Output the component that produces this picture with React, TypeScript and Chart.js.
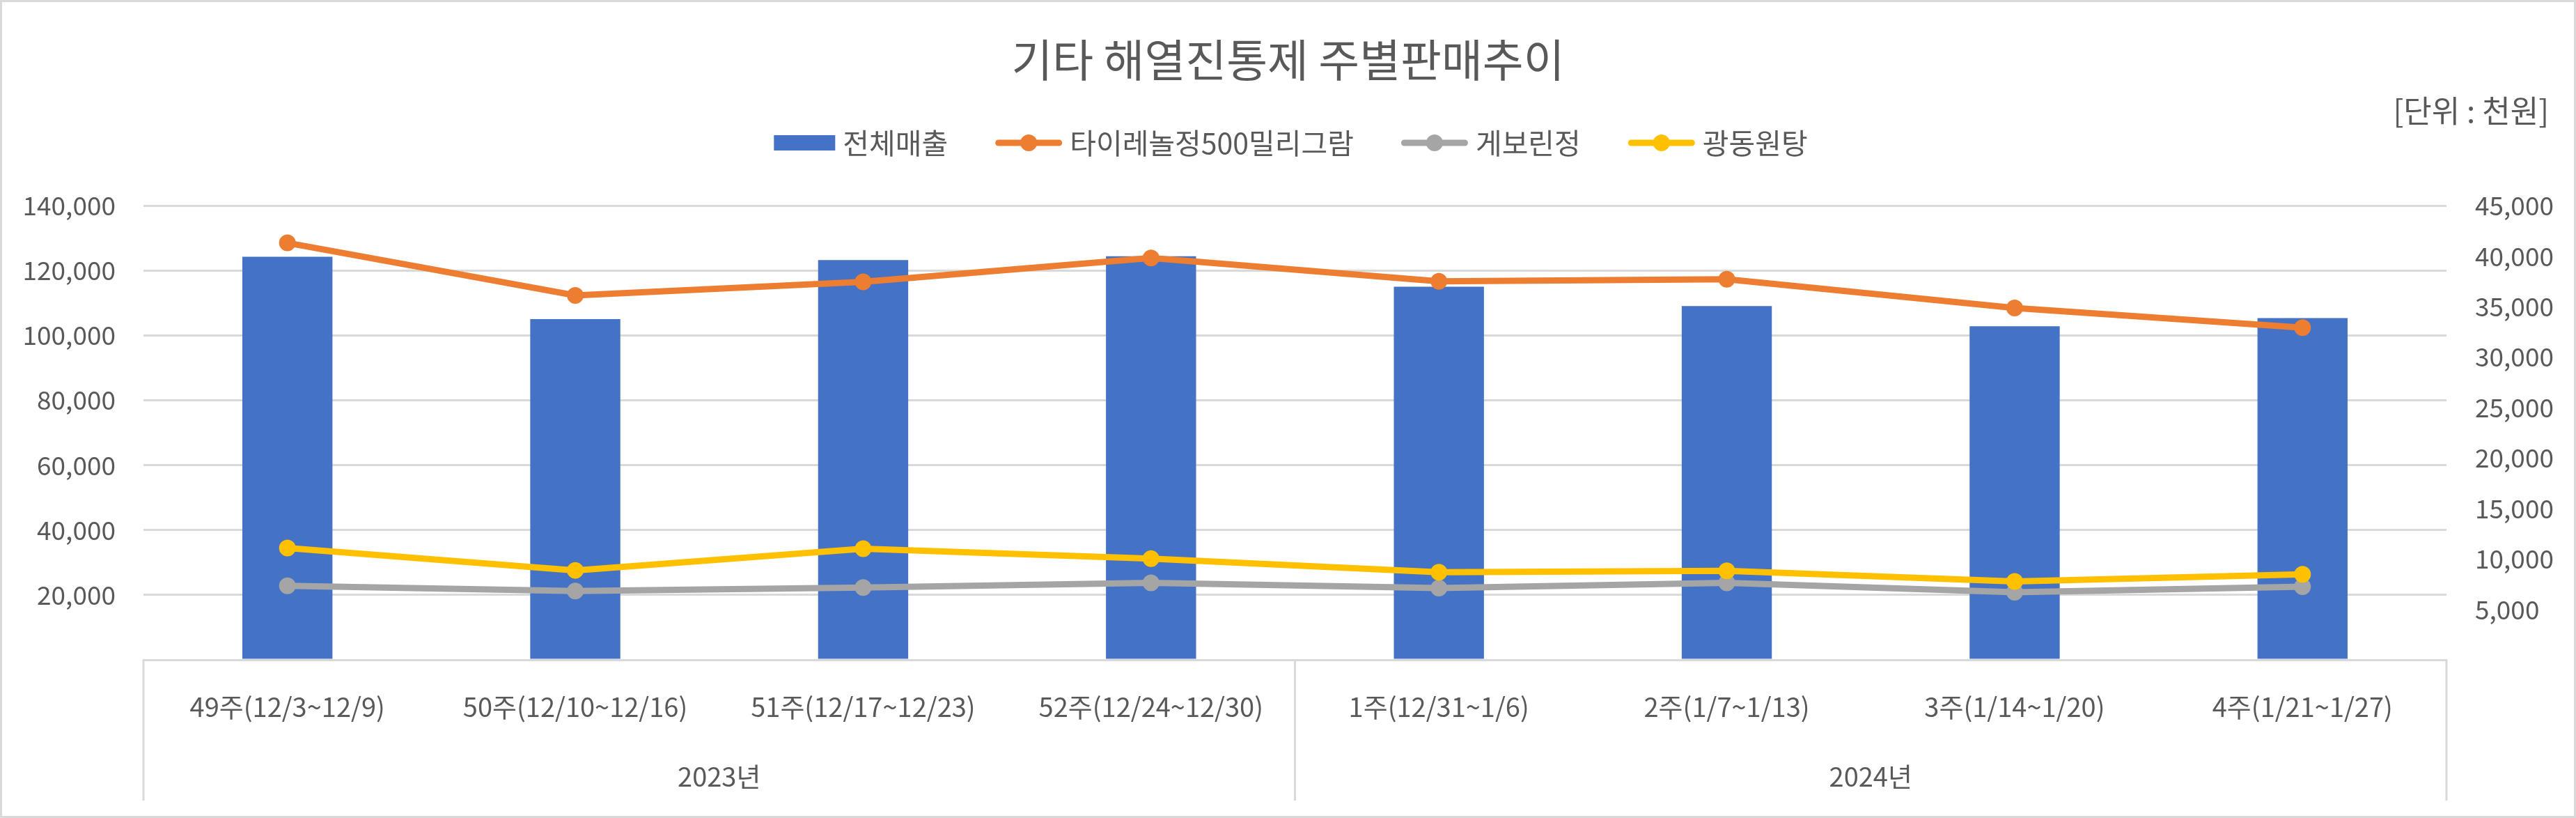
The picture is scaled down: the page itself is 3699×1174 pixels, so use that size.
import React, { useEffect, useRef } from "react";
import { Chart, registerables } from "chart.js";

Chart.register(...registerables);

// ---------- data ----------
const titleText = "기타 해열진통제 주별판매추이";
const unitText = "[단위 : 천원]";
const categories = [
  "49주(12/3~12/9)",
  "50주(12/10~12/16)",
  "51주(12/17~12/23)",
  "52주(12/24~12/30)",
  "1주(12/31~1/6)",
  "2주(1/7~1/13)",
  "3주(1/14~1/20)",
  "4주(1/21~1/27)",
];
const yearGroups = ["2023년", "2024년"];
const yearGroupSizes = [4, 4];
const seriesNames = ["전체매출", "타이레놀정500밀리그람", "게보린정", "광동원탕"];
const totalSales = [124200, 105000, 123200, 124400, 115000, 109000, 102800, 105300];
const tylenol = [41300, 36100, 37450, 39800, 37500, 37700, 34850, 32900];
const geborin = [7340, 6820, 7160, 7630, 7110, 7630, 6690, 7240];
const gwangdong = [11080, 8860, 11000, 10030, 8680, 8810, 7760, 8470];
const leftMax = 140000;
const leftStep = 20000;
const rightMax = 45000;
const rightStep = 5000;

// ---------- styles ----------
const W = 3699;
const H = 1174;
const FONT = '"Noto Sans CJK KR", "Noto Sans", sans-serif';
const TEXT = "#595959";
const GRID = "#d9d9d9";
const BLUE = "#4472C4";
const ORANGE = "#ED7D31";
const GRAY = "#A5A5A5";
const YELLOW = "#FFC000";

const decorPlugin = {
  id: "decor",
  beforeDraw(chart: any) {
    const { ctx } = chart;
    ctx.save();
    ctx.fillStyle = "#ffffff";
    ctx.fillRect(0, 0, chart.width, chart.height);
    ctx.restore();
  },
  afterDraw(chart: any) {
    const { ctx, chartArea } = chart;
    const w = chart.width;
    const h = chart.height;
    const xs = chart.scales.x;
    ctx.save();

    // outer border
    ctx.strokeStyle = GRID;
    ctx.lineWidth = 3;
    ctx.strokeRect(1.5, 1.5, w - 3, h - 3);

    // title
    ctx.fillStyle = TEXT;
    ctx.textBaseline = "middle";
    ctx.textAlign = "center";
    ctx.font = `64px ${FONT}`;
    ctx.fillText(titleText, w / 2, 86);

    // unit
    ctx.textAlign = "right";
    ctx.font = `44px ${FONT}`;
    ctx.fillText(unitText, 3660, 159);

    // legend
    ctx.font = `41px ${FONT}`;
    const ds = chart.data.datasets;
    const symW = (d: any) => (d.type === "bar" ? 88 : 96);
    const gapSym = 11;
    const gapItem = 68;
    let total = 0;
    ds.forEach((d: any, i: number) => {
      total += symW(d) + gapSym + ctx.measureText(d.label).width;
      if (i < ds.length - 1) total += gapItem;
    });
    let lx = w / 2 - total / 2 + 4;
    const ly = 205;
    ds.forEach((d: any) => {
      const sw = symW(d);
      if (d.type === "bar") {
        ctx.fillStyle = d.backgroundColor;
        ctx.fillRect(lx, ly - 11, sw, 22);
      } else {
        ctx.strokeStyle = d.borderColor;
        ctx.lineWidth = 9;
        ctx.lineCap = "round";
        ctx.beginPath();
        ctx.moveTo(lx + 4.5, ly);
        ctx.lineTo(lx + sw - 4.5, ly);
        ctx.stroke();
        ctx.fillStyle = d.borderColor;
        ctx.beginPath();
        ctx.arc(lx + sw / 2, ly, 12, 0, Math.PI * 2);
        ctx.fill();
      }
      lx += sw + gapSym;
      ctx.fillStyle = TEXT;
      ctx.textAlign = "left";
      ctx.fillText(d.label, lx, ly);
      lx += ctx.measureText(d.label).width + gapItem;
    });

    // group separators and labels
    const bounds: number[] = [chartArea.left];
    let idx = 0;
    yearGroupSizes.forEach((n) => {
      idx += n;
      if (idx < categories.length) {
        bounds.push((xs.getPixelForValue(idx - 1) + xs.getPixelForValue(idx)) / 2);
      } else {
        bounds.push(chartArea.right);
      }
    });
    ctx.strokeStyle = GRID;
    ctx.lineWidth = 3;
    ctx.lineCap = "butt";
    bounds.forEach((bx) => {
      ctx.beginPath();
      ctx.moveTo(bx, chartArea.bottom);
      ctx.lineTo(bx, 1149);
      ctx.stroke();
    });
    ctx.fillStyle = TEXT;
    ctx.textAlign = "center";
    ctx.font = `38px ${FONT}`;
    yearGroups.forEach((g, i) => {
      ctx.fillText(g, (bounds[i] + bounds[i + 1]) / 2, 1115);
    });

    ctx.restore();
  },
};

const fmt = (v: number) => (v === 0 ? "" : v.toLocaleString("en-US"));

export default function App() {
  const ref = useRef<HTMLCanvasElement | null>(null);

  useEffect(() => {
    document.body.style.margin = "0";
    if (!ref.current) return;
    const lineDs = (label: string, data: number[], color: string, order: number) => ({
      type: "line" as const,
      label,
      data,
      borderColor: color,
      backgroundColor: color,
      borderWidth: 9,
      pointRadius: 11,
      pointBorderWidth: 2,
      pointBackgroundColor: color,
      pointBorderColor: color,
      pointHoverRadius: 11,
      tension: 0,
      yAxisID: "y1",
      order,
    });
    const chart = new Chart(ref.current, {
      type: "bar",
      data: {
        labels: categories,
        datasets: [
          {
            type: "bar",
            label: seriesNames[0],
            data: totalSales,
            backgroundColor: BLUE,
            yAxisID: "y",
            order: 4,
            categoryPercentage: 1,
            barPercentage: 0.313,
          },
          lineDs(seriesNames[1], tylenol, ORANGE, 3),
          lineDs(seriesNames[2], geborin, GRAY, 2),
          lineDs(seriesNames[3], gwangdong, YELLOW, 1),
        ] as any,
      },
      options: {
        responsive: false,
        animation: false,
        devicePixelRatio: 1,
        layout: { padding: { top: 295, bottom: 0, left: 0, right: 0 } },
        plugins: {
          legend: { display: false },
          title: { display: false },
          tooltip: { enabled: false },
        },
        scales: {
          x: {
            grid: { display: false, drawTicks: false },
            border: { display: true, color: GRID, width: 3 },
            ticks: {
              color: TEXT,
              font: { family: FONT, size: 38 },
              padding: 45,
              maxRotation: 0,
              autoSkip: false,
            },
            afterFit: (s: any) => {
              s.height = 227;
            },
          },
          y: {
            position: "left",
            min: 0,
            max: leftMax,
            grid: { color: GRID, lineWidth: 3, drawTicks: false },
            border: { display: false },
            ticks: {
              stepSize: leftStep,
              color: TEXT,
              font: { family: FONT, size: 37 },
              padding: 40,
              callback: (v: any) => fmt(Number(v)),
            },
            afterFit: (s: any) => {
              s.width = 206;
            },
          },
          y1: {
            position: "right",
            min: 0,
            max: rightMax,
            grid: { display: false, drawTicks: false },
            border: { display: false },
            ticks: {
              stepSize: rightStep,
              color: TEXT,
              font: { family: FONT, size: 37 },
              padding: 41,
              callback: (v: any) => fmt(Number(v)),
            },
            afterFit: (s: any) => {
              s.width = W - 3513;
            },
          },
        },
      } as any,
      plugins: [decorPlugin],
    });
    return () => chart.destroy();
  }, []);

  return (
    <div style={{ width: W, height: H }}>
      <canvas ref={ref} width={W} height={H} style={{ display: "block", width: W, height: H }} />
    </div>
  );
}
